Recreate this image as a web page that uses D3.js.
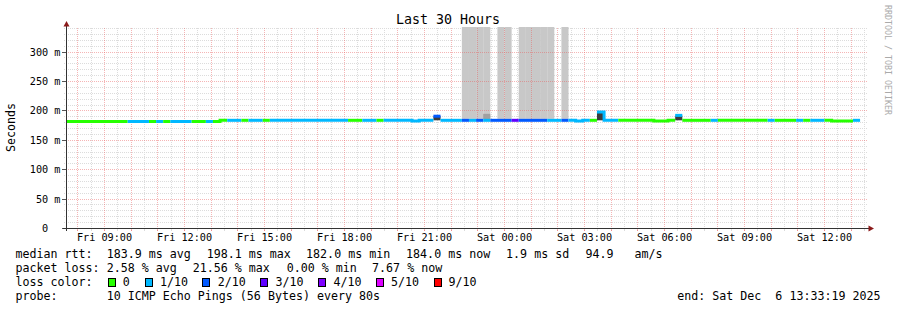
<!DOCTYPE html>
<html><head><meta charset="utf-8">
<script src="https://cdn.jsdelivr.net/npm/d3@7"></script>
<style>
html,body{margin:0;padding:0;background:#fff;}
text{font-family:"DejaVu Sans Mono",monospace;fill:#000;}
</style>
</head><body>
<svg id="c" width="897" height="310"></svg>
<script>
// ---------------- data ----------------
const chartTitle = "Last 30 Hours";
const yAxisTitle = "Seconds";
const watermark = "RRDTOOL / TOBI OETIKER";
const startTime = new Date(2025, 11, 5, 7, 33, 19);
const endTime = new Date(2025, 11, 6, 13, 33, 19);
const firstSampleEnd = new Date(2025, 11, 5, 7, 44, 0);
const stepMinutes = 16;
const yMaxMs = 341;
const yTickValues = [0, 50, 100, 150, 200, 250, 300];

// median RTT per 16-minute sample (ms)
const medianMs = [
 182.0,182.0,182.0,182.0,182.0,182.0,182.0,182.0,182.0,182.0,182.0,182.0,182.0,182.0,182.0,182.0,
 182.0,182.0,182.0,182.0,182.0,182.0,184.0,184.0,184.0,184.0,184.0,184.0,184.0,184.0,184.0,184.0,
 184.0,184.0,184.0,184.0,184.0,184.0,184.0,184.0,184.0,184.0,184.0,184.0,184.0,184.0,184.0,184.0,
 184.0,183.0,184.0,184.0,191.0,184.0,184.0,184.0,184.0,184.0,184.0,184.0,184.0,184.0,184.0,184.0,
 184.0,184.0,184.0,184.0,184.0,184.0,184.0,184.0,183.0,184.0,184.0,198.1,184.0,184.0,184.0,184.0,
 184.0,184.0,184.0,183.0,183.0,184.0,192.4,184.0,184.0,184.0,184.0,184.0,184.0,184.0,184.0,184.0,
 184.0,184.0,184.0,184.0,184.0,184.0,184.0,184.0,184.0,184.0,184.0,184.0,183.0,183.0,183.0,184.0
];
// lost pings (out of 10) per sample
const lostPings = [
 0,0,0,0,0,0,0,0,0,1,1,1,0,1,0,1,
 1,1,0,0,1,0,0,1,1,0,1,1,0,1,1,1,
 1,1,1,1,1,1,1,1,0,0,1,1,0,1,1,1,
 1,1,1,1,2,1,1,1,2,1,2,1,2,2,2,3,
 2,2,2,2,1,1,2,1,1,1,0,1,1,1,0,0,
 0,0,0,0,0,0,1,0,0,0,0,1,0,0,0,0,
 0,0,0,1,0,0,0,1,0,1,1,0,0,0,0,1
];
// smoke bands: sample index, low / high ping (ms), pings inside the band
const smokeSample = [56, 57, 58, 59, 61, 62, 64, 65, 66, 67, 68, 70, 59, 52, 75, 86];
const smokeLowMs  = [186.5,186.5,186.5,186.5,186.5,186.5,186.5,186.5,186.5,186.5,186.5,186.5,186, 184, 184, 184];
const smokeHighMs = [400, 400, 400, 400, 400, 400, 400, 400, 400, 400, 400, 400, 195, 191, 198, 192];
const smokePings  = [1, 1, 1, 1, 1, 1, 1, 1, 1, 1, 1, 1, 3, 8, 8, 8];

const lossLegendLabels = ["0", "1/10", "2/10", "3/10", "4/10", "5/10", "9/10"];
const lossLegendColors = ["#26ff00", "#00b8ff", "#0059ff", "#5e00ff", "#7e00ff", "#dd00ff", "#ff0000"];
const rttStats = ["183.9 ms avg", "198.1 ms max", "182.0 ms min", "184.0 ms now", "1.9 ms sd", "94.9", "am/s"];
const lossStats = ["2.58 % avg", "21.56 % max", "0.00 % min", "7.67 % now"];
const probeText = "10 ICMP Echo Pings (56 Bytes) every 80s";
const endText = "end: Sat Dec  6 13:33:19 2025";

// ---------------- layout ----------------
const svg = d3.select("#c");
const P = {left: 66, right: 866, top: 28, bottom: 228.5};
const x = d3.scaleTime().domain([startTime, endTime]).range([P.left, P.right]);
const y = d3.scaleLinear().domain([0, yMaxMs]).range([P.bottom, P.top]);
const stepMs = stepMinutes * 60000;
const sEnd = k => new Date(firstSampleEnd.getTime() + k * stepMs);
const sStart = k => new Date(sEnd(k).getTime() - stepMs);
const lossIdx = l => l <= 5 ? l : 6;

svg.append("rect").attr("width", 897).attr("height", 310).attr("fill", "#fff");

const defs = svg.append("defs");
defs.append("clipPath").attr("id", "plotclip").append("rect")
  .attr("x", P.left + 1).attr("y", 27).attr("width", P.right - P.left).attr("height", 228 - 27);

const shade = d3.scaleLinear().domain([1, 8]).range(["#c8c8c8", "#3c3c3c"]);
const smokeData = smokeSample.map((k, i) => ({k, lo: smokeLowMs[i], hi: smokeHighMs[i], n: smokePings[i]}))
  .sort((a, b) => a.n - b.n);
const drawSmoke = (g, data) => g.selectAll("rect").data(data).join("rect")
  .attr("x", d => x(sStart(d.k)))
  .attr("width", d => x(sEnd(d.k)) - x(sStart(d.k)))
  .attr("y", d => y(Math.min(d.hi, yMaxMs + 5)))
  .attr("height", d => y(d.lo) - y(Math.min(d.hi, yMaxMs + 5)))
  .attr("fill", d => shade(d.n));

// grid
const minorColor = "#dcdcdc", majorColor = "rgba(232,90,90,0.45)";
const hours = d3.timeHour.range(startTime, endTime);
const halfHours = d3.timeMinute.every(30).range(startTime, endTime).filter(t => t.getMinutes() !== 0);
const minorMs = d3.range(10, yMaxMs, 10).filter(v => v % 50 !== 0);
const majorMs = d3.range(50, yMaxMs, 50);
const px = v => Math.floor(v) + 0.5;

const gridMinor = svg.append("g").attr("shape-rendering", "crispEdges");
gridMinor.selectAll(".vminor").data(halfHours).join("line")
  .attr("x1", d => px(x(d))).attr("x2", d => px(x(d)))
  .attr("y1", P.top).attr("y2", 231)
  .attr("stroke", minorColor).attr("stroke-dasharray", "1,1");
gridMinor.selectAll(".hminor").data(minorMs).join("line")
  .attr("y1", d => px(y(d))).attr("y2", d => px(y(d)))
  .attr("x1", 64).attr("x2", P.right + 2)
  .attr("stroke", minorColor).attr("stroke-dasharray", "1,1");

// smoke
drawSmoke(svg.append("g").attr("clip-path", "url(#plotclip)"), smokeData);

const grid = svg.append("g").attr("shape-rendering", "crispEdges");
grid.selectAll(".vmajor").data(hours).join("line")
  .attr("x1", d => px(x(d))).attr("x2", d => px(x(d)))
  .attr("y1", P.top).attr("y2", 231)
  .attr("stroke", majorColor).attr("stroke-dasharray", "1,1");
grid.selectAll(".hmajor").data(majorMs).join("line")
  .attr("y1", d => px(y(d))).attr("y2", d => px(y(d)))
  .attr("x1", 64).attr("x2", P.right + 2)
  .attr("stroke", majorColor).attr("stroke-dasharray", "1,1");
grid.selectAll(".xt").data(hours.concat(halfHours)).join("line")
  .attr("x1", d => px(x(d))).attr("x2", d => px(x(d)))
  .attr("y1", 229).attr("y2", 231)
  .attr("stroke", d => d.getMinutes() === 0 ? majorColor : minorColor);
grid.selectAll(".yt").data(yTickValues).join("line")
  .attr("y1", d => px(y(d))).attr("y2", d => px(y(d)))
  .attr("x1", 62).attr("x2", 66)
  .attr("stroke", "#555");

// median line coloured by loss
const runs = [];
lostPings.forEach((l, k) => {
  const last = runs[runs.length - 1];
  if (last && last.loss === l && last.ks[last.ks.length - 1] === k - 1) last.ks.push(k);
  else runs.push({loss: l, ks: [k]});
});
const line = d3.line().x(d => x(d.t)).y(d => y(d.v)).curve(d3.curveStepAfter);
svg.append("g").attr("clip-path", "url(#plotclip)")
  .selectAll("path").data(runs).join("path")
  .attr("d", r => {
    const pts = r.ks.map(k => ({t: sStart(k), v: medianMs[k]}));
    const lk = r.ks[r.ks.length - 1];
    pts.push({t: sEnd(lk), v: medianMs[lk]});
    return line(pts);
  })
  .attr("fill", "none")
  .attr("stroke", r => lossLegendColors[lossIdx(r.loss)])
  .attr("stroke-width", 3);

// axes
const axisColor = "#333", arrowColor = "#8b1a1a";
svg.append("line").attr("x1", 66.5).attr("x2", 66.5).attr("y1", 231).attr("y2", 25)
  .attr("stroke", axisColor).attr("shape-rendering", "crispEdges");
svg.append("line").attr("x1", 63).attr("x2", 870).attr("y1", 228.5).attr("y2", 228.5)
  .attr("stroke", axisColor).attr("shape-rendering", "crispEdges");
svg.append("path").attr("d", "M66.5,21 L63.5,26.5 L69.5,26.5 Z").attr("fill", arrowColor);
svg.append("path").attr("d", "M874,228.5 L868.5,225.5 L868.5,231.5 Z").attr("fill", arrowColor);

// axis labels
const fmtY = v => v === 0 ? "0\u00a0\u00a0" : d3.format("d")(v) + " m";
svg.append("g").selectAll("text").data(yTickValues).join("text")
  .attr("x", 60.5).attr("y", d => y(d)).attr("dy", "0.35em")
  .attr("text-anchor", "end").attr("font-size", "10.2px")
  .text(fmtY);
const labelTimes = d3.timeHour.every(3).range(startTime, endTime);
const fmtX = d3.timeFormat("%a %H:%M");
svg.append("g").selectAll("text").data(labelTimes).join("text")
  .attr("x", d => x(d)).attr("y", 241.3)
  .attr("text-anchor", "middle").attr("font-size", "10.2px")
  .text(fmtX);

// titles
svg.append("text").attr("x", 448).attr("y", 24).attr("text-anchor", "middle")
  .attr("font-size", "13.3px").text(chartTitle);
svg.append("text").attr("transform", "translate(14.5,127.5) rotate(-90)")
  .attr("text-anchor", "middle").attr("font-size", "11.65px").text(yAxisTitle);
svg.append("text").attr("transform", "translate(884.5,60) rotate(90)")
  .attr("text-anchor", "middle").attr("font-size", "8.3px").style("fill", "#aaaaaa")
  .text(watermark);

// legend
const L = svg.append("g").attr("font-size", "11.65px");
const rows = [258.3, 272.3, 286.4, 300.3];
const put = (s, xx, yy, anchor) => L.append("text").attr("x", xx).attr("y", yy)
  .attr("text-anchor", anchor || "start").attr("xml:space", "preserve").text(s);
put("median rtt:", 15.4, rows[0]);
[106.7, 206.7, 306.1, 406.1, 506.1, 585.4, 634.4].forEach((xx, i) => put(rttStats[i], xx, rows[0]));
put("packet loss:", 15.4, rows[1]);
[106.7, 192.7, 286.7, 372.1].forEach((xx, i) => put(lossStats[i], xx, rows[1]));
put("loss color:", 15.4, rows[2]);
const boxX = [109, 146, 203, 261, 319, 377, 435];
const labX = [122.7, 160.1, 217.7, 275.4, 333.4, 391.1, 448.4];
lossLegendLabels.forEach((lab, i) => {
  L.append("rect").attr("x", boxX[i] - 0.5).attr("y", 278.5).attr("width", 7).attr("height", 8)
    .attr("fill", lossLegendColors[i]).attr("stroke", "#000").attr("stroke-width", 1)
    .attr("shape-rendering", "crispEdges");
  put(lab, labX[i], rows[2]);
});
put("probe:", 15.4, rows[3]);
put(probeText, 106.7, rows[3]);
put(endText, 880.5, rows[3], "end");
</script>
</body></html>
